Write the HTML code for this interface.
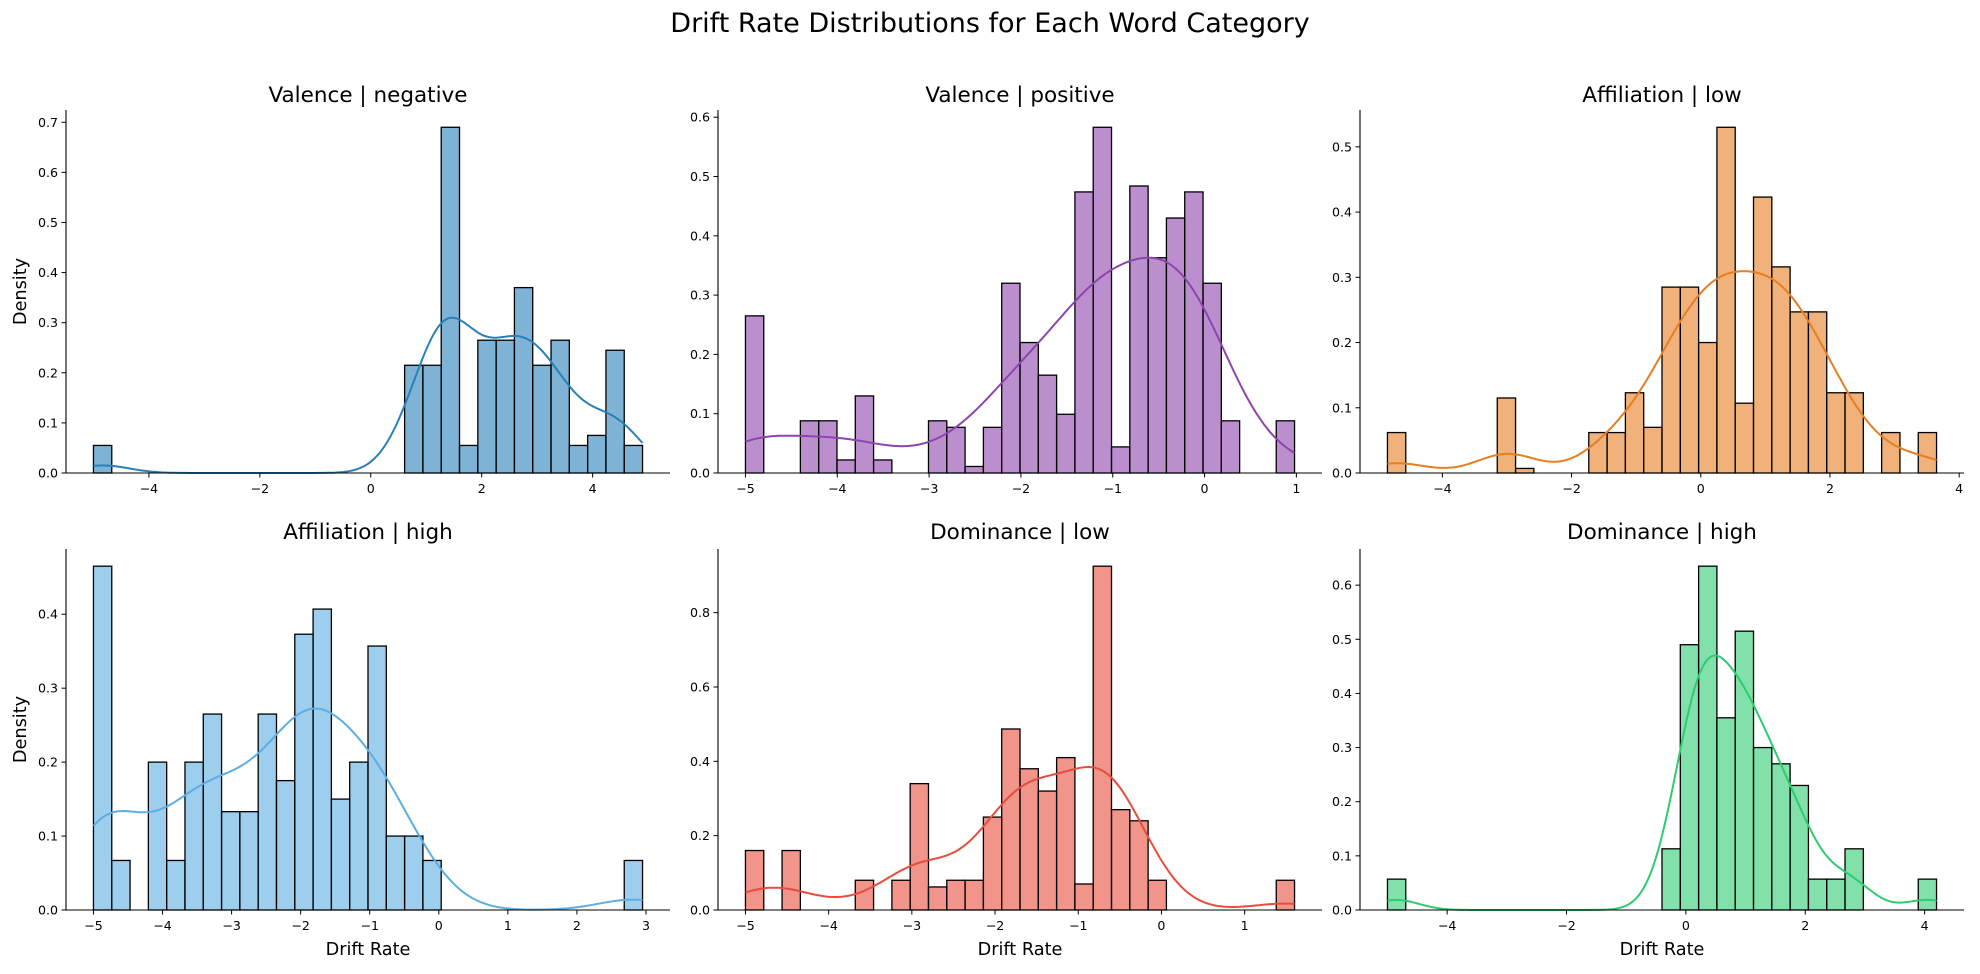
<!DOCTYPE html>
<html><head><meta charset="utf-8">
<style>
html,body{margin:0;padding:0;background:#fff;}
svg text{font-family:"DejaVu Sans","Liberation Sans",sans-serif;fill:#000;}
</style></head>
<body>
<svg id="fig" width="1980" height="969" viewBox="0 0 1980 969" xmlns="http://www.w3.org/2000/svg">
<text x="990" y="32" text-anchor="middle" font-size="27">Drift Rate Distributions for Each Word Category</text>
</svg>
<script>
const titles = ["Valence | negative","Valence | positive","Affiliation | low","Affiliation | high","Dominance | low","Dominance | high"];
const colors = ["#2980b9","#8e44ad","#e67e22","#5dade2","#e74c3c","#2ecc71"];
const xMins = [-5, -5, -4.85, -5, -5, -5];
const xMaxs = [4.9, 0.98, 3.65, 2.95, 1.6, 4.2];
const dens1 = [0.055,0,0,0,0,0,0,0,0,0,0,0,0,0,0,0,0,0.215,0.215,0.69,0.055,0.265,0.265,0.37,0.215,0.265,0.055,0.075,0.245,0.055];
const dens2 = [0.265,0,0,0.088,0.088,0.022,0.13,0.022,0,0,0.088,0.077,0.011,0.077,0.32,0.22,0.165,0.099,0.474,0.583,0.044,0.484,0.363,0.43,0.474,0.32,0.088,0,0,0.088];
const dens3 = [0.062,0,0,0,0,0,0.115,0.007,0,0,0,0.062,0.062,0.123,0.07,0.285,0.285,0.2,0.53,0.107,0.423,0.316,0.247,0.247,0.123,0.123,0,0.062,0,0.062];
const dens4 = [0.465,0.067,0,0.2,0.067,0.2,0.265,0.133,0.133,0.265,0.175,0.373,0.407,0.15,0.2,0.357,0.1,0.1,0.067,0,0,0,0,0,0,0,0,0,0,0.067];
const dens5 = [0.16,0,0.16,0,0,0,0.08,0,0.08,0.34,0.062,0.08,0.08,0.25,0.487,0.38,0.32,0.41,0.07,0.925,0.27,0.24,0.08,0,0,0,0,0,0,0.08];
const dens6 = [0.057,0,0,0,0,0,0,0,0,0,0,0,0,0,0,0.113,0.49,0.635,0.355,0.515,0.3,0.27,0.23,0.057,0.057,0.113,0,0,0,0.057];
const yTicks = [[0,0.1,0.2,0.3,0.4,0.5,0.6,0.7],[0,0.1,0.2,0.3,0.4,0.5,0.6],[0,0.1,0.2,0.3,0.4,0.5],[0,0.1,0.2,0.3,0.4],[0,0.2,0.4,0.6,0.8],[0,0.1,0.2,0.3,0.4,0.5,0.6]];
const xTicks = [[-4,-2,0,2,4],[-5,-4,-3,-2,-1,0,1],[-4,-2,0,2,4],[-5,-4,-3,-2,-1,0,1,2,3],[-5,-4,-3,-2,-1,0,1],[-4,-2,0,2,4]];
const allDens = [dens1,dens2,dens3,dens4,dens5,dens6];

const NS="http://www.w3.org/2000/svg";
const svg=document.getElementById('fig');
function mk(tag,attrs,parent){const e=document.createElementNS(NS,tag);for(const k in attrs)e.setAttribute(k,attrs[k]);(parent||svg).appendChild(e);return e;}
const lefts=[66,718,1360];
const tops=[110,549], bottoms=[473,910];
const W=604;
function fmt(v){return (v<0?"\u2212":"")+Math.abs(v).toFixed(0);}

for(let p=0;p<6;p++){
  const col=p%3,row=Math.floor(p/3);
  const L=lefts[col],T=tops[row],B=bottoms[row];
  const dens=allDens[p],n=dens.length;
  const x0=xMins[p],x1=xMaxs[p],pad=(x1-x0)*0.05;
  const dMin=x0-pad,dMax=x1+pad;
  const ymax=Math.max(...dens)*1.05;
  const sx=v=>L+(v-dMin)/(dMax-dMin)*W;
  const sy=v=>B-(v/ymax)*(B-T);
  const g=mk('g',{});
  
  
  const bw=(x1-x0)/n;
  dens.forEach((d,i)=>{
    if(d<=0)return;
    const r=mk('rect',{x:sx(x0+i*bw),y:sy(d),width:sx(x0+(i+1)*bw)-sx(x0+i*bw),height:B-sy(d),fill:colors[p],'fill-opacity':0.6,stroke:'#000','stroke-width':1.3},g);
    
    
  });
  let mean=0,tot=0;dens.forEach((d,i)=>{const c=x0+(i+0.5)*bw;mean+=d*c;tot+=d;});mean/=tot;
  let vr=0;dens.forEach((d,i)=>{const c=x0+(i+0.5)*bw;vr+=d*(c-mean)*(c-mean);});vr/=tot;
  const h=Math.sqrt(vr)*0.33;
  let pts=[];
  for(let k=0;k<=200;k++){
    const x=x0+(x1-x0)*k/200;let s=0;
    dens.forEach((d,i)=>{const c=x0+(i+0.5)*bw;const z=(x-c)/h;s+=d*bw*Math.exp(-0.5*z*z);});
    s/=(h*Math.sqrt(2*Math.PI));
    pts.push(sx(x).toFixed(1)+','+sy(s).toFixed(1));
  }
  const pl=mk('polyline',{points:pts.join(' '),fill:'none',stroke:colors[p],'stroke-width':2},g);
  
  
  const ya=mk('line',{x1:L,y1:T,x2:L,y2:B,stroke:'#000','stroke-width':1.1},g);
  
  
  const xa=mk('line',{x1:L,y1:B,x2:L+W,y2:B,stroke:'#000','stroke-width':1.1},g);
  
  
  yTicks[p].forEach(v=>{
    const y=sy(v);
    mk('line',{x1:L-4.5,y1:y,x2:L,y2:y,stroke:'#000','stroke-width':1},g);
    const t=mk('text',{x:L-8,y:y+4.5,'text-anchor':'end','font-size':12.6},g);
    t.textContent=v.toFixed(1);
    
    
  });
  xTicks[p].forEach(v=>{
    const x=sx(v);
    if(x>L+W+0.5)return;
    mk('line',{x1:x,y1:B,x2:x,y2:B+4.5,stroke:'#000','stroke-width':1},g);
    const t=mk('text',{x:x,y:B+20,'text-anchor':'middle','font-size':12.6},g);
    t.textContent=fmt(v);
    
    
  });
  const tt=mk('text',{x:L+W/2,y:row==0?102:539,'text-anchor':'middle','font-size':21.5},g);
  tt.textContent=titles[p];
  
  
  if(col==0){
    const yl=mk('text',{x:0,y:0,'text-anchor':'middle','font-size':17.7,transform:`translate(26,${(T+B)/2}) rotate(-90)`},g);
    yl.textContent='Density';
    
    
  }
  if(row==1){
    const xl=mk('text',{x:L+W/2,y:955,'text-anchor':'middle','font-size':17.7},g);
    xl.textContent='Drift Rate';
    
    
  }
}
</script>
</body></html>
